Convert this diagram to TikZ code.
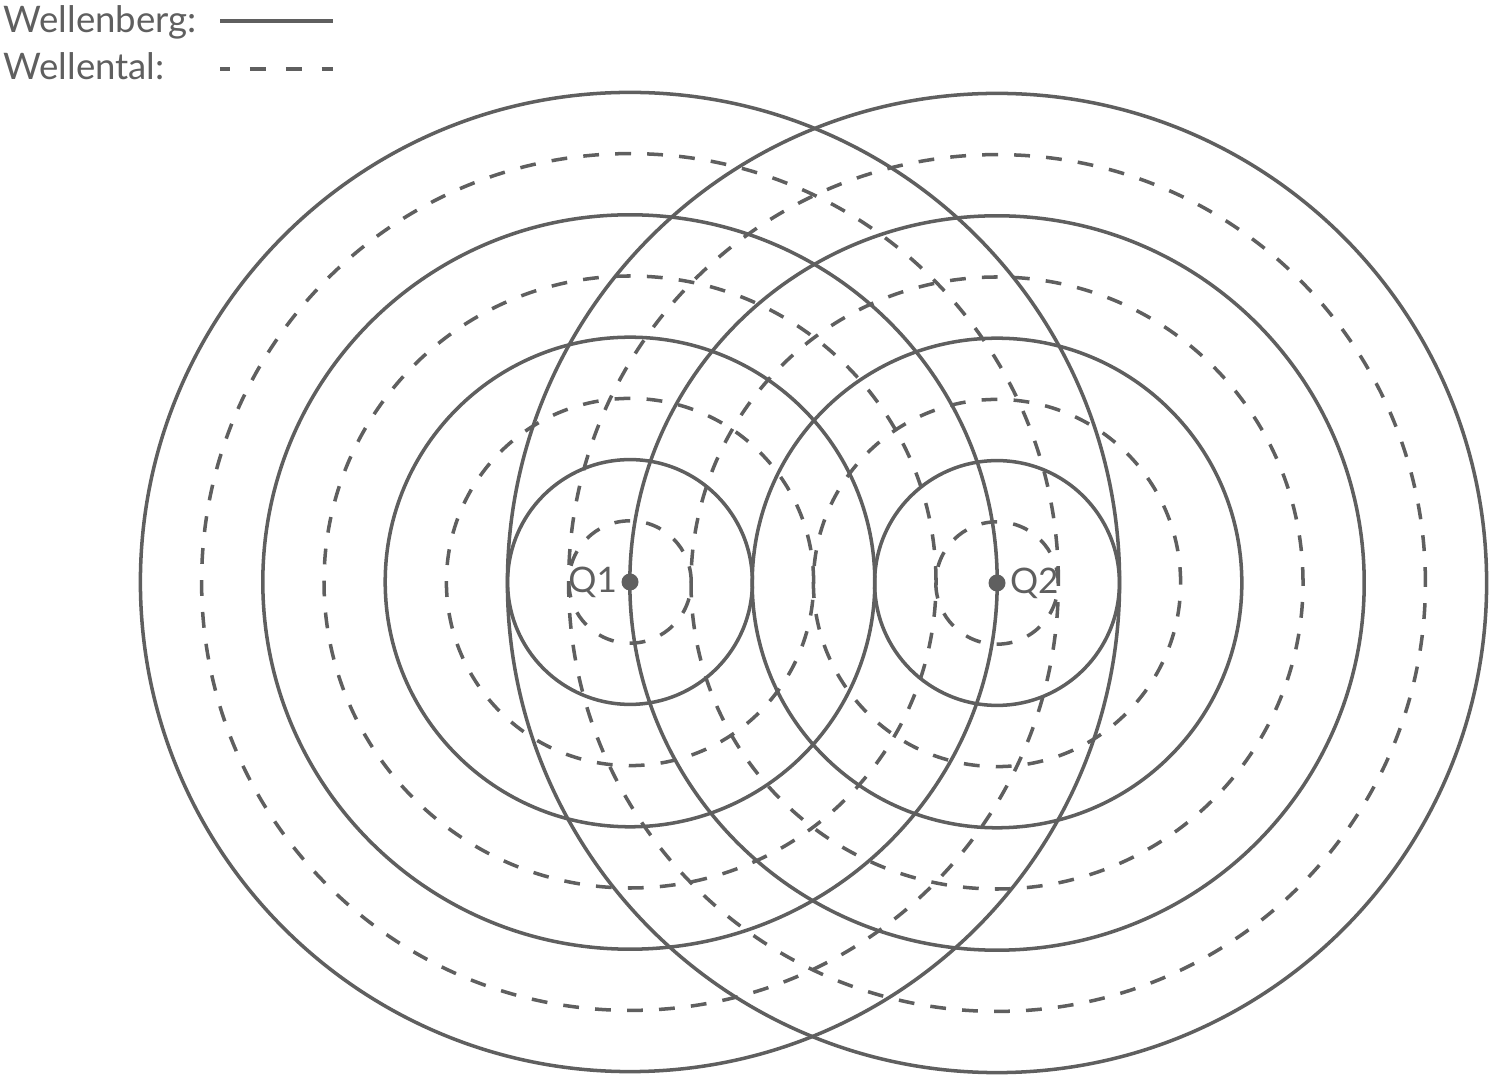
\documentclass[tikz,border=0pt]{standalone}
\usepackage{fontspec}
\setmainfont{Lato}
\usetikzlibrary{
  positioning,  % Function "of" (e.g. [right=of x])
  calc,         % Calculations $...$
}
\definecolor{wavegray}{RGB}{95,95,95}
\def\mylambda{122.4}
\tikzset{
  waves/.style={
    x=0.01cm,
    y=0.01cm,
    line width=1pt,
    color=wavegray
  },
  crest/.style={
    draw=wavegray
  },
  trough/.style={
    draw=wavegray,
    dash pattern=on 4.5pt off 4.6pt
  },
  legend/.style={
    anchor=base west,
    inner sep=0pt,
    font=\fontsize{10.4}{12}\selectfont
  },
  source/.style={
    circle,
    fill=wavegray,
    inner sep=0pt,
    minimum size=0.17cm
  },
  qlabel/.style={
    inner sep=0pt,
    font=\fontsize{10}{12}\selectfont
  }
}
\begin{document}
\begin{tikzpicture}[waves]
\useasboundingbox (0,0) rectangle (1489,1076);
% Legende
\node[legend] (crestlbl)  at (2,1043) {Wellenberg:};
\node[legend] (troughlbl) at (2,996)  {Wellental:};
\coordinate (c1) at (220,1055);
\coordinate (c2) at (333,1055);
\coordinate (t1) at (220,1007);
\coordinate (t2) at (333,1007);
\draw[crest]  (c1) -- (c2);
\draw[trough,dash pattern=on 4.5pt off 5.7pt,dash phase=1.7pt] (t1) -- (t2);
% Quellen
\node[source] (Q1) at (630,494) {};
\node[source] (Q2) at (997,493) {};
\node[qlabel,left=0.01cm of Q1]  (q1lbl) {Q1};
\node[qlabel,right=0.01cm of Q2] (q2lbl) {Q2};
% Kreise
\foreach \q in {Q1,Q2}{
  \foreach \k in {1,...,4}{
    \draw[crest]  (\q.center) circle ({\k*\mylambda});
    \draw[trough] (\q.center) circle ({(\k-0.5)*\mylambda});
  }
}
\end{tikzpicture}
\end{document}
